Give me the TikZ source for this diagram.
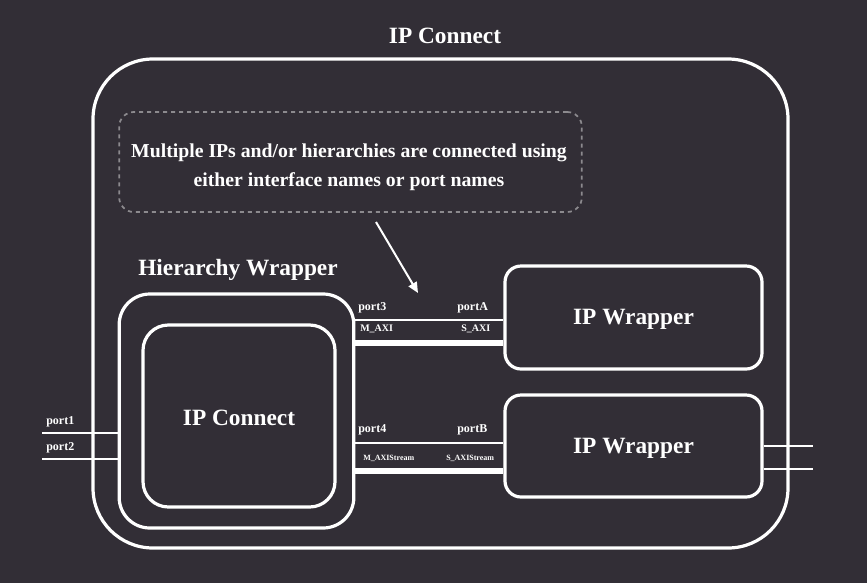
\documentclass[tikz,border=0pt]{standalone}
\usepackage{fontspec}
\setmainfont{Liberation Serif}
\usetikzlibrary{arrows.meta}
\definecolor{bg}{HTML}{322E36}
\definecolor{dashc}{HTML}{8C8A8E}
\tikzset{
  box/.style={draw=white,line width=2.4pt},
  lbl/.style={text=white,font=\bfseries\fontsize{9}{10}\selectfont,inner sep=0pt},
  slbl/.style={text=white,font=\bfseries\fontsize{7.5}{9}\selectfont,inner sep=0pt},
  tlbl/.style={text=white,font=\bfseries\fontsize{6}{7}\selectfont,inner sep=0pt},
  big/.style={text=white,font=\bfseries\fontsize{17.5}{20}\selectfont,inner sep=0pt},
  thin/.style={draw=white,line width=1.5pt},
  thick/.style={draw=white,line width=4pt},
}
\begin{document}
\begin{tikzpicture}[x=0.75pt,y=-0.75pt]
\fill[bg] (0,0) rectangle (867,583);
\useasboundingbox (0,0) rectangle (867,583);
\node[big] (title) at (445,35.5) {IP Connect};
\draw[box,rounded corners=45pt] (93,59) rectangle (788,548);
\node[draw=dashc,dashed,line width=1.3pt,rounded corners=11pt,minimum width=347pt,minimum height=75pt,inner sep=0pt] (note) at (350.5,162) {};
\node[text=white,font=\bfseries\fontsize{14.8}{22}\selectfont,align=center] (notetxt) at (349,167) {Multiple IPs and/or hierarchies are connected using\\either interface names or port names};
\coordinate (arrS) at (376,222);
\coordinate (arrE) at (418,293);
\draw[white,line width=1.5pt,-{Triangle[length=8pt,width=7pt]}] (arrS) -- (arrE);
\node[big] (hwlabel) at (238,270) {Hierarchy Wrapper};
\node[box,rounded corners=23pt,minimum width=176pt,minimum height=175.5pt] (hw) at (236.5,411) {};
\node[box,rounded corners=19pt,minimum width=144pt,minimum height=136.5pt] (ipc) at (239,416) {};
\node[big] at ([yshift=-1.5pt]ipc) {IP Connect};
\node[box,rounded corners=12pt,minimum width=192.75pt,minimum height=77.25pt] (w1) at (633.5,317.5) {};
\node[big] at ([yshift=-1.5pt]w1) {IP Wrapper};
\node[box,rounded corners=12pt,minimum width=192.75pt,minimum height=76.5pt] (w2) at (633.5,446) {};
\node[big] at ([yshift=-1.5pt]w2) {IP Wrapper};
% connections
\draw[thin] (hw.east |- 0,320) -- (w1.west |- 0,320);
\draw[thick] (hw.east |- 0,343) -- (w1.west |- 0,343);
\draw[thin] (hw.east |- 0,443) -- (w2.west |- 0,443);
\draw[thick] (hw.east |- 0,471) -- (w2.west |- 0,471);
\node[lbl,anchor=west] (p3) at (358,307.5) {port3};
\node[lbl,anchor=west] (pA) at (457,307.5) {portA};
\node[slbl,anchor=west] (m1) at (360,329) {M\_AXI};
\node[slbl,anchor=west] (s1) at (461,329) {S\_AXI};
\node[lbl,anchor=west] (p4) at (358,429.5) {port4};
\node[lbl,anchor=west] (pB) at (457,429.5) {portB};
\node[tlbl,anchor=west] (m2) at (363,458) {M\_AXIStream};
\node[tlbl,anchor=west] (s2) at (446,458) {S\_AXIStream};
% left ports
\coordinate (l1) at (42,433);
\coordinate (l2) at (42,459);
\draw[thin] (l1) -- (hw.west |- l1);
\draw[thin] (l2) -- (hw.west |- l2);
\node[lbl,anchor=west] (p1) at (46,421.5) {port1};
\node[lbl,anchor=west] (p2) at (46,447.5) {port2};
% right ports
\coordinate (r1) at (813,446);
\coordinate (r2) at (813,469);
\draw[thin] (w2.east |- r1) -- (r1);
\draw[thin] (w2.east |- r2) -- (r2);
\end{tikzpicture}
\end{document}
